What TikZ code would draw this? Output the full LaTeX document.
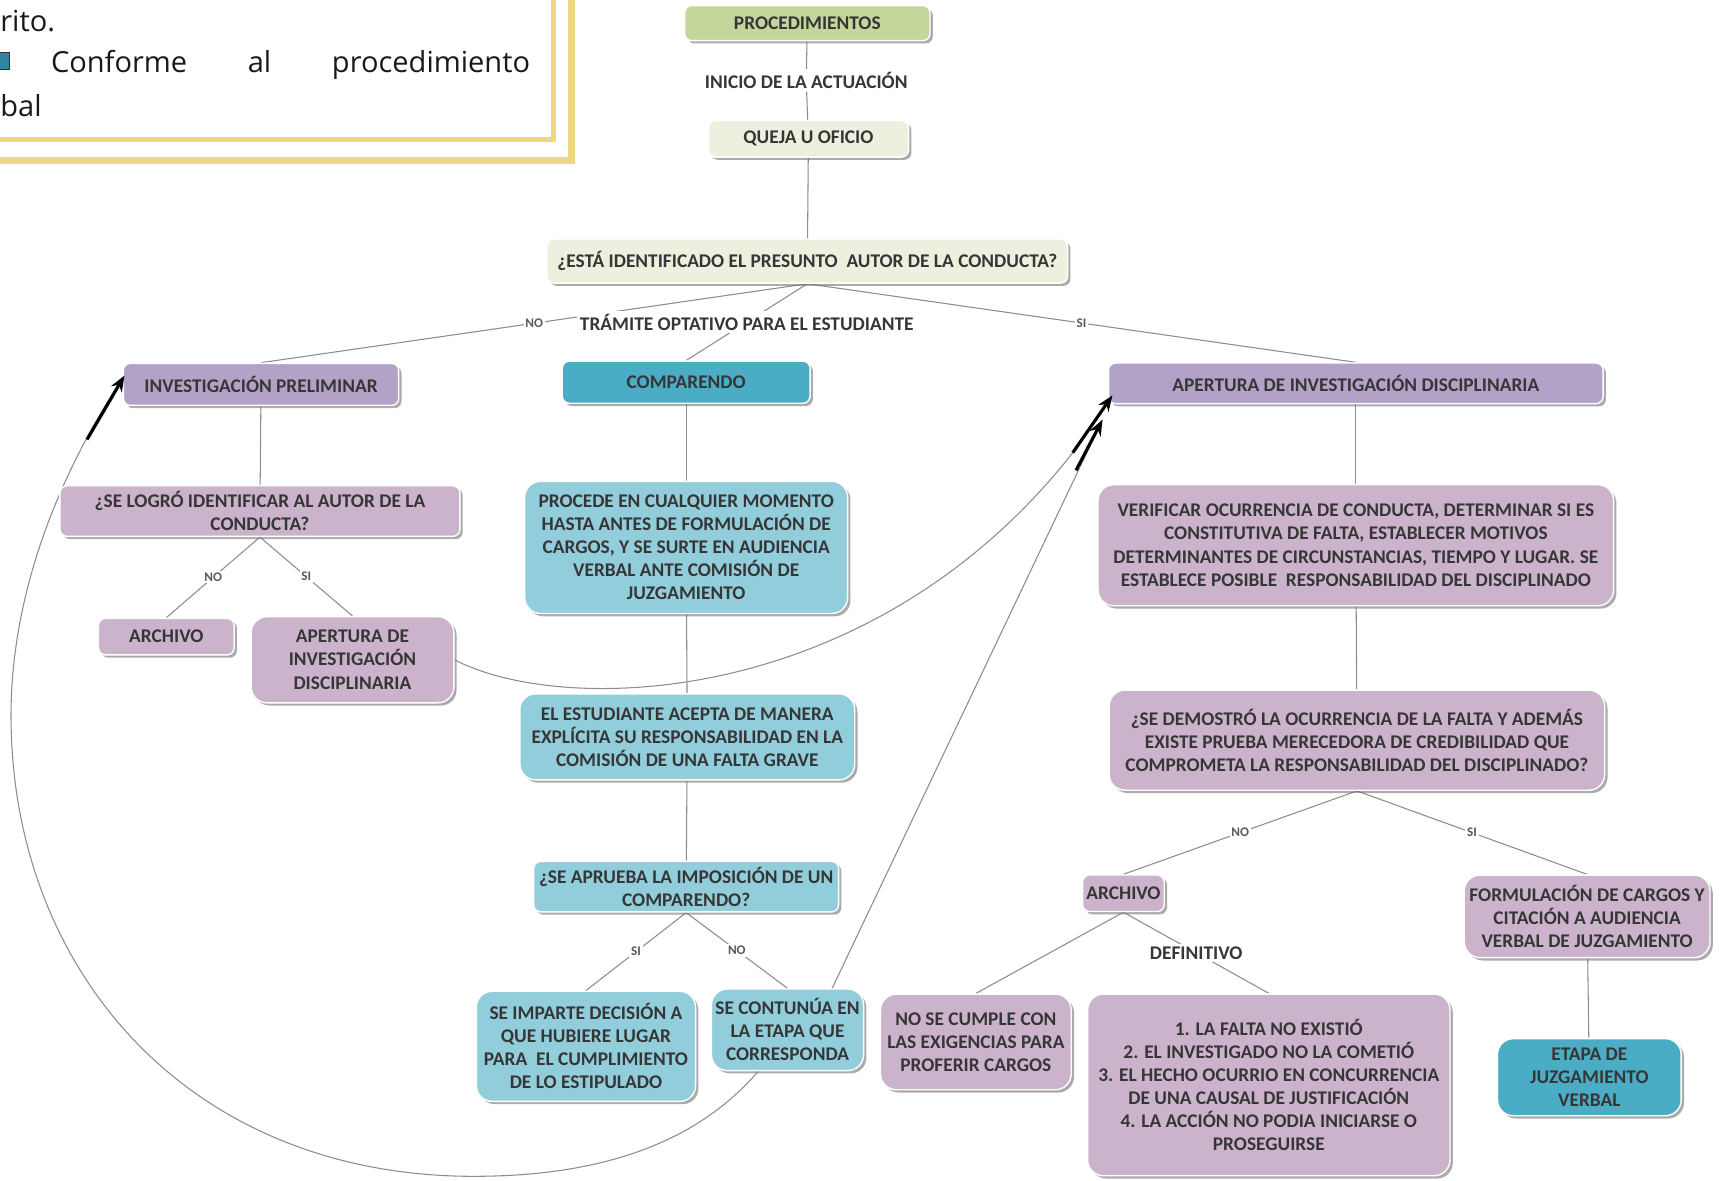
\documentclass[tikz,border=0pt]{standalone}
\usepackage{fontspec}
\setmainfont{Carlito}
\newfontfamily\bodyfont{Open Sans}
\usetikzlibrary{shadows,arrows.meta,backgrounds}

\definecolor{gold}{HTML}{EFD77F}
\definecolor{tgreen}{HTML}{C3D69B}
\definecolor{pgreen}{HTML}{EBF1DE}
\definecolor{lav}{HTML}{B3A2C7}
\definecolor{mauve}{HTML}{CCB3CC}
\definecolor{tealbox}{HTML}{4BACC6}
\definecolor{sky}{HTML}{92CDDC}
\definecolor{ink}{HTML}{363636}
\definecolor{wire}{HTML}{8C8C8C}
\definecolor{bullet}{HTML}{31859C}

\tikzset{
  box/.style={rectangle, rounded corners=4pt, draw=white, line width=0.8pt, text=ink,
    font=\bfseries\fontsize{11}{13.1}\selectfont, align=center, inner sep=2pt,
    drop shadow={shadow xshift=1.6pt, shadow yshift=-1.6pt, fill=black!55, opacity=0.6}},
  bigbox/.style={box, rounded corners=9pt},
  lbl/.style={fill=white, inner sep=1pt, text=black!65, font=\bfseries\fontsize{7.5}{8}\selectfont},
  stage/.style={fill=white, inner sep=1.5pt, text=ink, font=\bfseries\fontsize{11}{13}\selectfont},
  link/.style={draw=wire, line width=0.6pt},
  jump/.style={draw=black, line width=1.8pt, -{Stealth[length=9pt,width=7pt]}},
  frag/.style={anchor=base west, inner sep=0pt, text=black!90, font=\bodyfont\fontsize{16.5}{20}\selectfont}
}

\begin{document}
\begin{tikzpicture}[x=0.022cm, y=-0.022cm]
\useasboundingbox (0,0) rectangle (1568,1072);

% marco superior izquierdo
\draw[gold, line width=0.11cm] (-5,126.5) -- (502.5,126.5) -- (502.5,-5);
\draw[gold, line width=0.13cm] (-5,145.5) -- (519,145.5) -- (519,-5);
\node[frag] (frag1) at (0,29) {rito.};
\draw[draw=black!80, fill=bullet, line width=0.6pt] (-4,48) rectangle (9,63);
\node[frag] (frag2) at (46,66) {\hbox to 9.57cm{Conforme\hfill al\hfill procedimiento}};
\node[frag] (frag3) at (0,106) {bal};

% tronco
\node[box, fill=tgreen, minimum width=4.9cm, minimum height=0.7cm] (proc) at (733,21) {PROCEDIMIENTOS};
\node[stage] (inicio) at (732,73) {INICIO DE LA ACTUACIÓN};
\node[box, fill=pgreen, minimum width=4.0cm, minimum height=0.73cm] (queja) at (734,126) {QUEJA U OFICIO};
\node[box, fill=pgreen, minimum width=10.4cm, minimum height=0.88cm] (autor) at (733,237) {¿ESTÁ IDENTIFICADO EL PRESUNTO\ \ AUTOR DE LA CONDUCTA?};

% rama izquierda
\node[box, fill=lav, minimum width=5.5cm, minimum height=0.84cm] (prelim) at (237,349) {INVESTIGACIÓN PRELIMINAR};
\node[box, fill=mauve, minimum width=7.99cm, minimum height=1.01cm] (logro) at (236,464) {¿SE LOGRÓ IDENTIFICAR AL AUTOR DE LA\\CONDUCTA?};
\node[box, fill=mauve, minimum width=2.71cm, minimum height=0.73cm] (archizq) at (151,578) {ARCHIVO};
\node[bigbox, fill=mauve, minimum width=4.05cm, minimum height=1.72cm] (apizq) at (320,599) {APERTURA DE\\INVESTIGACIÓN\\DISCIPLINARIA};

% rama central
\node[box, fill=tealbox, minimum width=4.95cm, minimum height=0.84cm] (compar) at (623,347) {COMPARENDO};
\node[bigbox, fill=sky, minimum width=6.45cm, minimum height=2.64cm] (procede) at (623,497) {PROCEDE EN CUALQUIER MOMENTO\\HASTA ANTES DE FORMULACIÓN DE\\CARGOS, Y SE SURTE EN AUDIENCIA\\VERBAL ANTE COMISIÓN DE\\JUZGAMIENTO};
\node[bigbox, fill=sky, minimum width=6.69cm, minimum height=1.72cm] (acepta) at (624,669) {EL ESTUDIANTE ACEPTA DE MANERA\\EXPLÍCITA SU RESPONSABILIDAD EN LA\\COMISIÓN DE UNA FALTA GRAVE};
\node[box, fill=sky, minimum width=6.09cm, minimum height=1.01cm] (aprueba) at (623,805) {¿SE APRUEBA LA IMPOSICIÓN DE UN\\COMPARENDO?};
\node[bigbox, fill=sky, minimum width=4.38cm, minimum height=2.2cm] (imparte) at (532,950) {SE IMPARTE DECISIÓN A\\QUE HUBIERE LUGAR\\PARA\ \ EL CUMPLIMIENTO\\DE LO ESTIPULADO};
\node[bigbox, fill=sky, minimum width=3.04cm, minimum height=1.63cm] (sigue) at (715,935) {SE CONTUNÚA EN\\LA ETAPA QUE\\CORRESPONDA};

% rama derecha
\node[box, fill=lav, minimum width=9.88cm, minimum height=0.81cm] (apder) at (1231,348) {APERTURA DE INVESTIGACIÓN DISCIPLINARIA};
\node[bigbox, fill=mauve, minimum width=10.3cm, minimum height=2.42cm] (verif) at (1231,495) {VERIFICAR OCURRENCIA DE CONDUCTA, DETERMINAR SI ES\\CONSTITUTIVA DE FALTA, ESTABLECER MOTIVOS\\DETERMINANTES DE CIRCUNSTANCIAS, TIEMPO Y LUGAR. SE\\ESTABLECE POSIBLE\ \ RESPONSABILIDAD DEL DISCIPLINADO};
\node[bigbox, fill=mauve, minimum width=9.9cm, minimum height=2.0cm] (demostro) at (1232,672) {¿SE DEMOSTRÓ LA OCURRENCIA DE LA FALTA Y ADEMÁS\\EXISTE PRUEBA MERECEDORA DE CREDIBILIDAD QUE\\COMPROMETA LA RESPONSABILIDAD DEL DISCIPLINADO?};
\node[box, fill=mauve, minimum width=1.63cm, minimum height=0.73cm, inner sep=1pt] (archder) at (1020,811) {ARCHIVO};
\node[bigbox, fill=mauve, minimum width=4.91cm, minimum height=1.65cm] (cargos) at (1441,832) {FORMULACIÓN DE CARGOS Y\\CITACIÓN A AUDIENCIA\\VERBAL DE JUZGAMIENTO};
\node[bigbox, fill=mauve, minimum width=3.81cm, minimum height=1.91cm] (nocumple) at (886,946) {NO SE CUMPLE CON\\LAS EXIGENCIAS PARA\\PROFERIR CARGOS};
\node[bigbox, fill=mauve, minimum width=7.24cm, minimum height=3.63cm] (causales) at (1152,985) {1. LA FALTA NO EXISTIÓ\\2. EL INVESTIGADO NO LA COMETIÓ\\3. EL HECHO OCURRIO EN CONCURRENCIA\\DE UNA CAUSAL DE JUSTIFICACIÓN\\4. LA ACCIÓN NO PODIA INICIARSE O\\PROSEGUIRSE};
\node[bigbox, fill=tealbox, minimum width=3.67cm, minimum height=1.54cm] (juzga) at (1443,978) {ETAPA DE\\JUZGAMIENTO\\VERBAL};

% extremos de las flechas
\coordinate (tipa) at (1010,359);
\coordinate (tipb) at (1001,381);
\coordinate (tipc) at (113,341);
\coordinate (ca) at (974,411);
\coordinate (cb) at (977,427);
\coordinate (cc) at (79,399);
\coordinate (sb) at (740,930);

\begin{scope}[on background layer]
\path[link] (proc) edge (inicio);
\path[link] (inicio) edge (queja);
\path[link] (queja) edge (autor);
\path[link] (autor.south) edge node[lbl] {NO} (prelim.north);
\path[link] (autor.south) edge node[lbl] {SI} (apder.north);
\path[link] (autor.south) edge node[stage] (tramite) {TRÁMITE OPTATIVO PARA EL ESTUDIANTE} (compar.north);
\path[link] (prelim) edge (logro);
\path[link] (logro.south) edge node[lbl] {NO} (archizq.north);
\path[link] (logro.south) edge node[lbl] {SI} (apizq.north);
\path[link] (compar) edge (procede);
\path[link] (procede) edge (acepta);
\path[link] (acepta) edge (aprueba);
\path[link] (aprueba.south) edge node[lbl] {SI} (imparte.north);
\path[link] (aprueba.south) edge node[lbl] {NO} (sigue.north);
\path[link] (apder) edge (verif);
\path[link] (verif) edge (demostro);
\path[link] (demostro.south) edge node[lbl] {NO} (archder.north);
\path[link] (demostro.south) edge node[lbl] {SI} (cargos.north);
\path[link] (archder.south) edge (nocumple.north);
\path[link] (archder.south) edge node[stage] {DEFINITIVO} (causales.north);
\path[link] (cargos) edge (juzga);
% retornos
\draw[link] (apizq.east) .. controls (510,650) and (790,645) .. (ca) -- (tipa);
\draw[link] (sb) -- (tipb);
\draw[link] (sigue.center) .. controls (660,1030) and (560,1068) .. (430,1068)
  .. controls (170,1068) and (10,880) .. (10,650)
  .. controls (10,530) and (60,420) .. (tipc);
\end{scope}

\draw[jump] (ca) -- (tipa);
\draw[jump] (cb) -- (tipb);
\draw[jump] (cc) -- (tipc);
\end{tikzpicture}
\end{document}
